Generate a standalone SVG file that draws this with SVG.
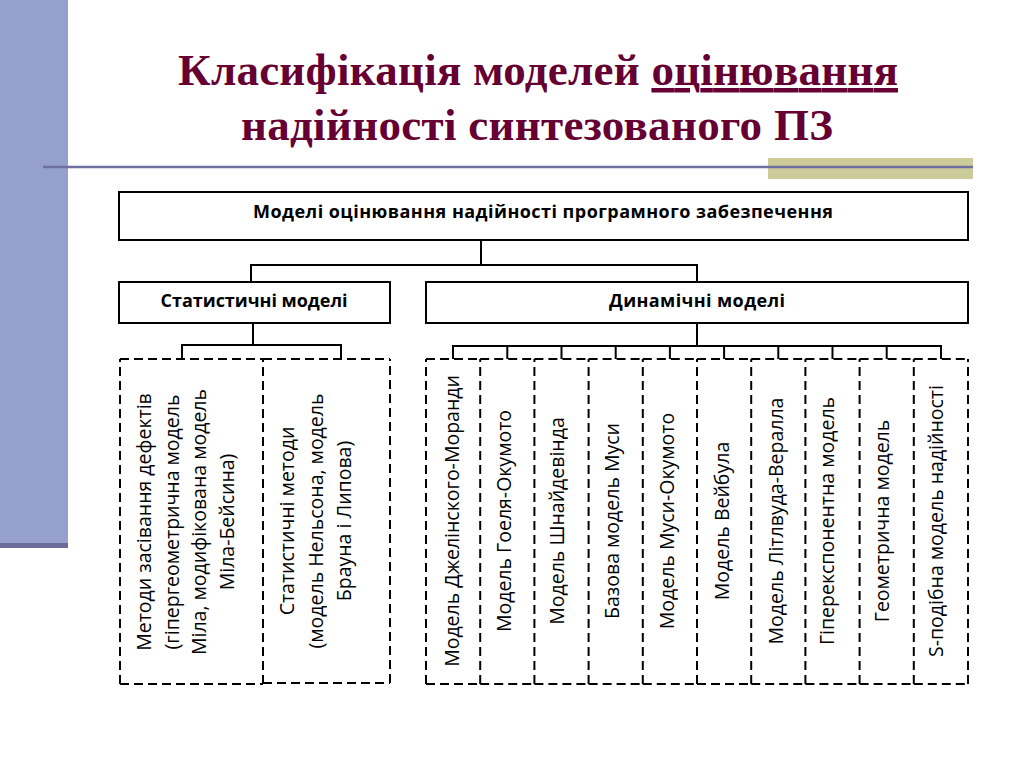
<svg xmlns="http://www.w3.org/2000/svg" width="1024" height="768" viewBox="0 0 1024 768">
<style>
.title{font-family:"Liberation Serif","Times New Roman",serif;font-weight:bold;font-size:45px;fill:#660033;text-anchor:middle}
.box{fill:#fff;stroke:#000;stroke-width:2}
.dbox{fill:none;stroke:#000;stroke-width:2;stroke-dasharray:9 5}
.hd{font-family:"Open Sans","Liberation Sans",sans-serif;font-weight:bold;font-size:18px;fill:#000;text-anchor:middle}
.tx{font-family:"Open Sans","Liberation Sans",sans-serif;font-size:19.5px;fill:#000;text-anchor:middle}
.conn line{stroke:#000;stroke-width:2}
</style>
<rect x="0" y="0" width="68" height="546" fill="#96A0CF"/>
<rect x="0" y="543" width="68" height="5" fill="#6B6B9C"/>
<rect x="768" y="158" width="205" height="21" fill="#CDCB9A"/>
<line x1="43" y1="167" x2="973" y2="167" stroke="#7070A0" stroke-width="2.5"/>
<text class="title" x="538" y="85" textLength="720" lengthAdjust="spacing">Класифікація моделей <tspan text-decoration="underline">оцінювання</tspan></text>
<text class="title" x="537" y="140" textLength="592" lengthAdjust="spacing">надійності синтезованого ПЗ</text>

<g class="conn" id="connectors">
<line x1="481" y1="240" x2="481" y2="265"/>
<line x1="251" y1="265" x2="697" y2="265"/>
<line x1="251" y1="264" x2="251" y2="282"/>
<line x1="697" y1="264" x2="697" y2="282"/>
<line x1="253" y1="323" x2="253" y2="345"/>
<line x1="182" y1="345" x2="341" y2="345"/>
<line x1="182" y1="344" x2="182" y2="359"/>
<line x1="341" y1="344" x2="341" y2="359"/>
<line x1="697" y1="323" x2="697" y2="346"/>
<line x1="453" y1="346" x2="941" y2="346"/>
<line x1="453" y1="345" x2="453" y2="359"/>
<line x1="507.3" y1="345" x2="507.3" y2="359"/>
<line x1="561.5" y1="345" x2="561.5" y2="359"/>
<line x1="615.7" y1="345" x2="615.7" y2="359"/>
<line x1="669.9" y1="345" x2="669.9" y2="359"/>
<line x1="724.1" y1="345" x2="724.1" y2="359"/>
<line x1="778.3" y1="345" x2="778.3" y2="359"/>
<line x1="832.5" y1="345" x2="832.5" y2="359"/>
<line x1="886.7" y1="345" x2="886.7" y2="359"/>
<line x1="941" y1="345" x2="941" y2="359"/>
</g>

<g id="root">
<rect class="box" x="119" y="192" width="849" height="48"/>
<text class="hd" x="543" y="218" textLength="580" lengthAdjust="spacing">Моделі оцінювання надійності програмного забезпечення</text>
</g>
<g id="stat">
<rect class="box" x="119" y="282" width="271" height="41"/>
<text class="hd" x="254" y="307" textLength="187" lengthAdjust="spacing">Статистичні моделі</text>
</g>
<g id="dyn">
<rect class="box" x="426" y="282" width="542" height="41"/>
<text class="hd" x="697" y="307" textLength="176" lengthAdjust="spacing">Динамічні моделі</text>
</g>

<g id="s1">
<path class="dbox" d="M120,684 V359 M120,359 H263 M120,684 H263"/>
<text class="tx" transform="translate(151,522) rotate(-90)">Методи засівання дефектів</text>
<text class="tx" transform="translate(179,522) rotate(-90)">(гіпергеометрична модель</text>
<text class="tx" transform="translate(206,522) rotate(-90)">Міла, модифікована модель</text>
<text class="tx" transform="translate(234,522) rotate(-90)">Міла-Бейсина)</text>
</g>
<g id="s2">
<path class="dbox" d="M263,684 V359 M263,359 H390 M263,683 H390 M390,683 V359"/>
<text class="tx" transform="translate(294,521) rotate(-90)">Статистичні методи</text>
<text class="tx" transform="translate(323,521) rotate(-90)">(модель Нельсона, модель</text>
<text class="tx" transform="translate(351,521) rotate(-90)">Брауна і Липова)</text>
</g>

<g id="d1"><path class="dbox" d="M426,684 V359 M426,359 H480.2 M426,684 H480.2"/><text class="tx" transform="translate(459,521) rotate(-90)">Модель Джелінского-Моранди</text></g>
<g id="d2"><path class="dbox" d="M480.2,684 V359 M480.2,359 H534.4 M480.2,684 H534.4"/><text class="tx" transform="translate(511,521) rotate(-90)">Модель Гоеля-Окумото</text></g>
<g id="d3"><path class="dbox" d="M534.4,684 V359 M534.4,359 H588.6 M534.4,684 H588.6"/><text class="tx" transform="translate(564,521) rotate(-90)">Модель Шнайдевінда</text></g>
<g id="d4"><path class="dbox" d="M588.6,684 V359 M588.6,359 H642.8 M588.6,684 H642.8"/><text class="tx" transform="translate(619,521) rotate(-90)">Базова модель Муси</text></g>
<g id="d5"><path class="dbox" d="M642.8,684 V359 M642.8,359 H697 M642.8,684 H697"/><text class="tx" transform="translate(674,521) rotate(-90)">Модель Муси-Окумото</text></g>
<g id="d6"><path class="dbox" d="M697,684 V359 M697,359 H751.2 M697,684 H751.2"/><text class="tx" transform="translate(729,521) rotate(-90)">Модель Вейбула</text></g>
<g id="d7"><path class="dbox" d="M751.2,684 V359 M751.2,359 H805.4 M751.2,684 H805.4"/><text class="tx" transform="translate(783,521) rotate(-90)">Модель Літлвуда-Вералла</text></g>
<g id="d8"><path class="dbox" d="M805.4,684 V359 M805.4,359 H859.6 M805.4,684 H859.6"/><text class="tx" transform="translate(834,521) rotate(-90)">Гіперекспонентна модель</text></g>
<g id="d9"><path class="dbox" d="M859.6,684 V359 M859.6,359 H913.8 M859.6,684 H913.8"/><text class="tx" transform="translate(889,521) rotate(-90)">Геометрична модель</text></g>
<g id="d10"><path class="dbox" d="M913.8,684 V359 M913.8,359 H968 M913.8,684 H968 M968,684 V359"/><text class="tx" transform="translate(943,521) rotate(-90)">S-подібна модель надійності</text></g>
</svg>
